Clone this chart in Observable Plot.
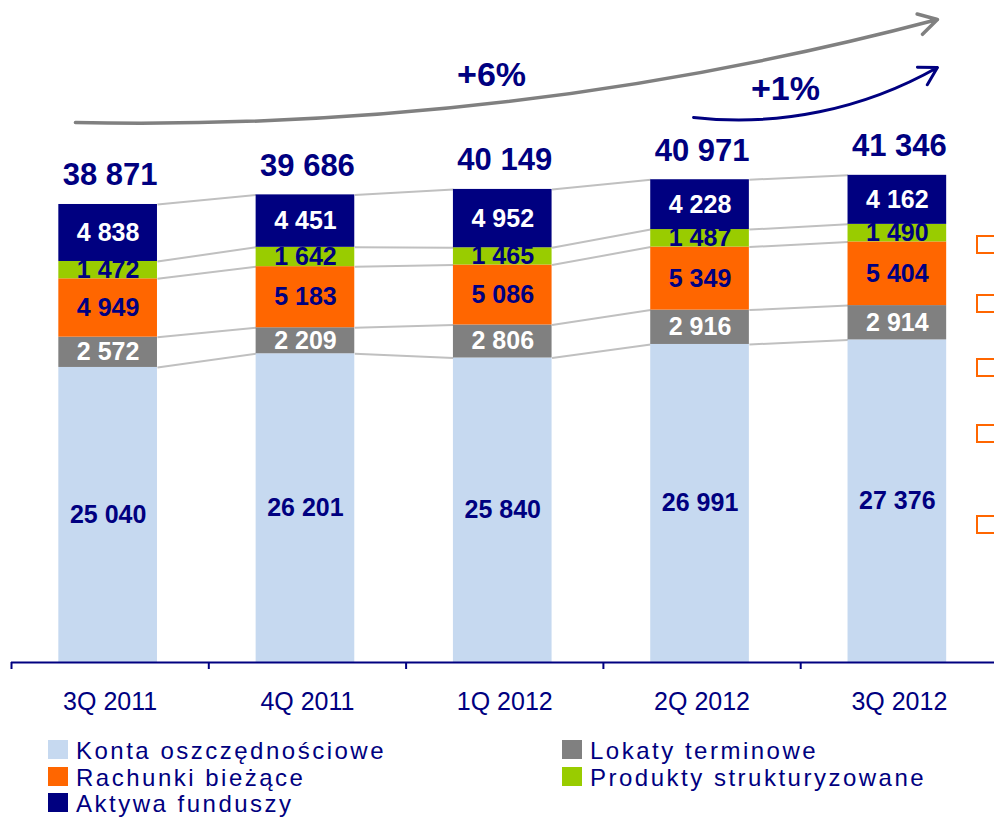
<!DOCTYPE html>
<html>
<head>
<meta charset="utf-8">
<script src="https://cdn.jsdelivr.net/npm/d3@7"></script>
<script src="https://cdn.jsdelivr.net/npm/@observablehq/plot@0.6"></script>
<style>
  html, body { margin: 0; padding: 0; background: #fff; overflow: hidden; width: 994px; height: 817px; }
  body { position: relative; font-family: "Liberation Sans", Arial, sans-serif; }
  #chart svg { display: block; }
  .legend { position: absolute; left: 0; top: 738px; width: 994px; font-size: 24px; letter-spacing: 2.5px; color: #000080; }
  .legend .col { position: absolute; top: 0; }
  .legend .row { line-height: 26.5px; height: 26.5px; white-space: nowrap; }
  .legend .sw { display: inline-block; width: 20px; height: 19px; margin-right: 8px; vertical-align: baseline; }
  .deco { position: absolute; left: 976px; width: 24px; height: 19px; border: 2px solid #ff6600; box-sizing: border-box; }
</style>
</head>
<body>
<div id="chart"></div>
<div class="legend" id="legend"></div>
<div class="deco" style="top:235px"></div>
<div class="deco" style="top:294px"></div>
<div class="deco" style="top:358px"></div>
<div class="deco" style="top:424px"></div>
<div class="deco" style="top:515px"></div>
<script>
// ---- data ----
const categories = ["3Q 2011", "4Q 2011", "1Q 2012", "2Q 2012", "3Q 2012"];
const seriesNames = ["Konta oszczędnościowe", "Lokaty terminowe", "Rachunki bieżące", "Produkty strukturyzowane", "Aktywa funduszy"];
const konta    = [25040, 26201, 25840, 26991, 27376];
const lokaty   = [2572, 2209, 2806, 2916, 2914];
const rachunki = [4949, 5183, 5086, 5349, 5404];
const produkty = [1472, 1642, 1465, 1487, 1490];
const aktywa   = [4838, 4451, 4952, 4228, 4162];
const totals   = [38871, 39686, 40149, 40971, 41346];
const seriesColors = ["#c6d9f0", "#808080", "#ff6600", "#99cc00", "#000080"];
const whiteLabelSeries = ["Lokaty terminowe", "Aktywa funduszy"];
const legendOrder = [[0, 2, 4], [1, 3]];
// growth annotations (category index units, value units)
const growthText = ["+6%", "+1%"];
const growthArrowX1 = [-0.176, 2.957];
const growthArrowY1 = [45829, 46253];
const growthArrowX2 = [4.193, 4.193];
const growthArrowY2 = [54570, 50496];
const growthTextX = [1.933, 3.423];
const growthTextY = [49809, 48621];

// ---- build tables ----
const seriesValues = [konta, lokaty, rachunki, produkty, aktywa];
const NAVY = "#000080";
const FONT = "Liberation Sans, Arial, sans-serif";
const half = 0.25;
const fmt = v => d3.format(",")(v).replace(/,/g, " ");

const rows = [];
categories.forEach((c, i) => {
  let acc = 0;
  seriesValues.forEach((vals, s) => {
    const v = vals[i];
    rows.push({cat: c, i, s, series: seriesNames[s], value: v, y1: acc, y2: acc + v});
    acc += v;
  });
});
const links = [];
for (let s = 0; s < seriesNames.length; s++) {
  for (let i = 0; i < categories.length - 1; i++) {
    const a = rows.find(r => r.i === i && r.s === s);
    const b = rows.find(r => r.i === i + 1 && r.s === s);
    links.push({x1: i + half, x2: i + 1 - half, y1: a.y2, y2: b.y2});
  }
}
const boundaries = d3.range(categories.length).map(i => i - 0.5);
const idx = d3.range(categories.length);
const arrows = growthText.map((t, k) => ({x1: growthArrowX1[k], y1: growthArrowY1[k], x2: growthArrowX2[k], y2: growthArrowY2[k], tx: growthTextX[k], ty: growthTextY[k], text: t}));

const k = 0.011783; // px per unit
const base = 662;
const H = 738;

const plot = Plot.plot({
  width: 994,
  height: H,
  marginTop: 0, marginLeft: 11, marginRight: 0, marginBottom: H - base,
  style: {fontFamily: FONT, overflow: "visible", background: "#fff"},
  x: {domain: [-0.5, 4.5], range: [11, 11 + 5 * 197.3], axis: null},
  y: {domain: [0, 50000], range: [base, base - 50000 * k], axis: null},
  color: {domain: seriesNames, range: seriesColors},
  marks: [
    Plot.link(links, {x1: "x1", x2: "x2", y1: "y1", y2: "y2", stroke: "#c0c0c0", strokeWidth: 2, dx: -2}),
    Plot.rectY(rows, {x1: d => d.i - half, x2: d => d.i + half, y1: "y1", y2: "y2", fill: "series", dx: -2}),
    Plot.text(rows.filter(r => !whiteLabelSeries.includes(r.series)), {
      x: "i", y: d => (d.y1 + d.y2) / 2, text: d => fmt(d.value), dx: -2,
      fill: NAVY, fontSize: 25, fontWeight: "bold", fontFamily: FONT, lineAnchor: "middle"
    }),
    Plot.text(rows.filter(r => whiteLabelSeries.includes(r.series)), {
      x: "i", y: d => (d.y1 + d.y2) / 2, text: d => fmt(d.value), dx: -2,
      fill: "white", fontSize: 25, fontWeight: "bold", fontFamily: FONT, lineAnchor: "middle"
    }),
    Plot.text(totals, {
      x: (d, i) => i, y: d => d, text: d => fmt(d), dy: -29,
      fill: NAVY, fontSize: 31, fontWeight: "bold", fontFamily: FONT, lineAnchor: "middle"
    }),
    Plot.ruleY([0], {stroke: NAVY, strokeWidth: 2}),
    Plot.axisX(boundaries, {tickSize: 7, tickFormat: () => "", stroke: NAVY, strokeWidth: 2}),
    Plot.text(idx, {
      x: d => d, y: d => 0, text: d => categories[d], dy: 39,
      fill: NAVY, fontSize: 25, fontFamily: FONT, lineAnchor: "middle"
    }),
    Plot.arrow(arrows.slice(0, 1), {x1: "x1", y1: "y1", x2: "x2", y2: "y2", bend: -8, stroke: "#808080", strokeWidth: 3.5, headLength: 9}),
    Plot.arrow(arrows.slice(1, 2), {x1: "x1", y1: "y1", x2: "x2", y2: "y2", bend: -18, stroke: NAVY, strokeWidth: 3, headLength: 10}),
    Plot.text(arrows, {x: "tx", y: "ty", text: "text", fill: NAVY, fontSize: 34, fontWeight: "bold", fontFamily: FONT, lineAnchor: "middle"})
  ]
});
document.getElementById("chart").appendChild(plot);

// legend
const legend = document.getElementById("legend");
const colLeft = [48, 562];
legendOrder.forEach((col, c) => {
  const div = document.createElement("div");
  div.className = "col";
  div.style.left = colLeft[c] + "px";
  col.forEach(s => {
    const row = document.createElement("div");
    row.className = "row";
    const sw = document.createElement("span");
    sw.className = "sw";
    sw.style.background = seriesColors[s];
    row.appendChild(sw);
    row.appendChild(document.createTextNode(seriesNames[s]));
    div.appendChild(row);
  });
  legend.appendChild(div);
});
</script>
</body>
</html>
